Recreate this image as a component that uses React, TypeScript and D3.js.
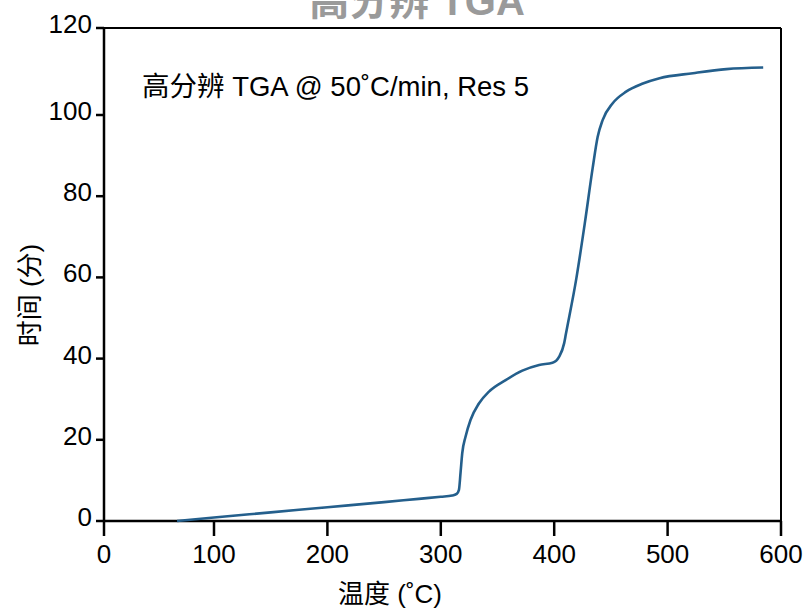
import React from "react";
import * as d3 from "d3";

const temperature = [66.4, 100, 150, 200, 250, 280.5, 300, 310, 314, 316, 317.4, 318.9, 321.8, 326.2, 333.6, 342.5, 357.2, 371.9, 386.7, 398.5, 404.4, 408.8, 410.3, 419.5, 427, 433.9, 438.3, 442.7, 451.6, 463.4, 478.2, 492.9, 522.4, 551.9, 584.3];
const timeMin = [0, 0.86, 2.12, 3.39, 4.65, 5.46, 5.97, 6.27, 6.68, 7.69, 11.84, 16.69, 20.74, 24.89, 28.94, 31.87, 34.7, 37.03, 38.45, 38.95, 40.47, 43.81, 46.04, 59.7, 73.36, 86.91, 94.6, 98.75, 102.7, 105.36, 107.24, 108.46, 109.61, 110.55, 110.92];
const xTicks = [0, 100, 200, 300, 400, 500, 600];
const yTicks = [0, 20, 40, 60, 80, 100, 120];

const titleText = "高分辨 TGA";
const annotationText = "高分辨 TGA @ 50˚C/min, Res 5";
const xTitle = "温度 (˚C)";
const yTitle = "时间 (分)";

export default function App() {
  const W = 809, H = 613;
  const x = d3.scaleLinear().domain([0, 100, 600]).range([104, 214, 781]);
  const y = d3.scaleLinear().domain([0, 100, 120]).range([521, 115, 28]);
  const pts = temperature.map((t, i) => [t, timeMin[i]] as [number, number]);
  const line = d3.line<[number, number]>().x(d => x(d[0])).y(d => y(d[1])).curve(d3.curveMonotoneX);
  const font = "'Liberation Sans', Arial, 'Noto Sans CJK SC', sans-serif";
  return (
    <svg width={W} height={H} style={{ position: "absolute", left: 0, top: 0, background: "#fff" }} fontFamily={font}>
      <rect width={W} height={H} fill="#fff" />
      <text x={417} y={15} textAnchor="middle" fontSize={40} fontWeight="bold" fill="#9a9a9a">{titleText}</text>
      {/* frame */}
      <line x1={x(0)} x2={x(600)} y1={y(120)} y2={y(120)} stroke="#000" strokeWidth={2} />
      <line x1={x(600)} x2={x(600)} y1={y(120)} y2={y(0)} stroke="#000" strokeWidth={2} />
      <line x1={x(0)} x2={x(0)} y1={y(120)} y2={y(0)} stroke="#000" strokeWidth={2.5} />
      <line x1={x(0)} x2={x(600)} y1={y(0)} y2={y(0)} stroke="#000" strokeWidth={2.5} />
      {xTicks.map(t => (
        <g key={"x" + t}>
          <line x1={x(t)} x2={x(t)} y1={y(0)} y2={y(0) + 15} stroke="#000" strokeWidth={2.5} />
          <text x={x(t)} y={563} textAnchor="middle" fontSize={26} fill="#000">{t}</text>
        </g>
      ))}
      {yTicks.map(t => (
        <g key={"y" + t}>
          <line x1={x(0) - 8} x2={x(0)} y1={y(t)} y2={y(t)} stroke="#000" strokeWidth={2.5} />
          <text x={92} y={y(t) + 5} textAnchor="end" fontSize={26} fill="#000">{t}</text>
        </g>
      ))}
      <path d={line(pts) || ""} fill="none" stroke="#245f8c" strokeWidth={2.6} />
      <text x={142} y={96} fontSize={27.5} fill="#000">{annotationText}</text>
      <text x={390} y={603} textAnchor="middle" fontSize={26} fill="#000">{xTitle}</text>
      <text transform="translate(39,295) rotate(-90)" textAnchor="middle" fontSize={26} fill="#000">{yTitle}</text>
    </svg>
  );
}
